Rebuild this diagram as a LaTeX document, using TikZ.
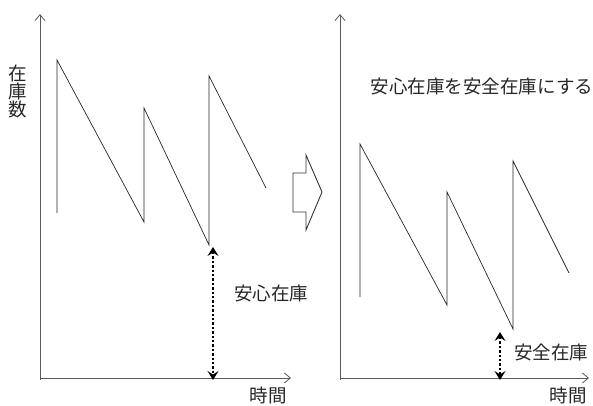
\documentclass[tikz,border=0pt]{standalone}
\usepackage{fontspec}
\newfontfamily\jp{Noto Sans CJK JP}
\usetikzlibrary{arrows.meta}
\begin{document}
\begin{tikzpicture}[x=1pt,y=-1pt,
  axis/.style={draw=black!65, line width=0.9pt, -{Straight Barb[length=6pt,width=10pt,line width=0.8pt]}},
  saw/.style={draw=black!85, line width=0.7pt, line join=miter},
  dotarrow/.style={draw=black, line width=2.6pt, dash pattern=on 2.4pt off 2pt,
    {Stealth[length=9pt,width=11pt,inset=3.5pt]}-{Stealth[length=9pt,width=11pt,inset=3.5pt]}},
  lbl/.style={font=\jp\fontsize{18.5}{20}\selectfont, inner sep=0pt, text=black!85}
]
\useasboundingbox (0,0) rectangle (593,405);
% left axes
\coordinate (lo) at (40,378);
\coordinate (ly) at (40,14);
\coordinate (lx) at (291,378);
\draw[axis] (40,380) -- (ly);
\draw[axis] (lo) -- (lx);
\node[lbl, align=center] (ylab) at (18,91) {在\\[-2pt]庫\\[-2pt]数};
\node[lbl] (lt) at (268,395) {時間};
% left sawtooth
\draw[saw] (57,213) -- (57,60) -- (144,222) -- (144,108) -- (209,245) -- (209,76) -- (266,188);
% left dotted arrow
\coordinate (la1) at (213,247);
\coordinate (la2) at (213,380);
\draw[dotarrow] (la1) -- (la2);
\node[lbl] (anshin) at (271,293) {安心在庫};
% hollow arrow
\draw[black!80, line width=0.9pt, line join=miter]
  (293,173) -- (306,173) -- (306,155) -- (322,192) -- (306,230) -- (306,212) -- (293,212) -- cycle;
% right axes
\coordinate (ro) at (340,378);
\coordinate (ry) at (340,14);
\coordinate (rx) at (589,378);
\draw[axis] (340,380) -- (ry);
\draw[axis] (ro) -- (rx);
\node[lbl] (rt) at (568,395) {時間};
\node[lbl] (title) at (482,86) {安心在庫を安全在庫にする};
% right sawtooth
\draw[saw] (360,297) -- (360,144) -- (447,305) -- (447,192) -- (513,329) -- (513,161) -- (569,273);
% right dotted arrow
\coordinate (ra1) at (500,332);
\coordinate (ra2) at (500,380);
\draw[dotarrow] (ra1) -- (ra2);
\node[lbl] (anzen) at (551,352) {安全在庫};
\end{tikzpicture}
\end{document}
